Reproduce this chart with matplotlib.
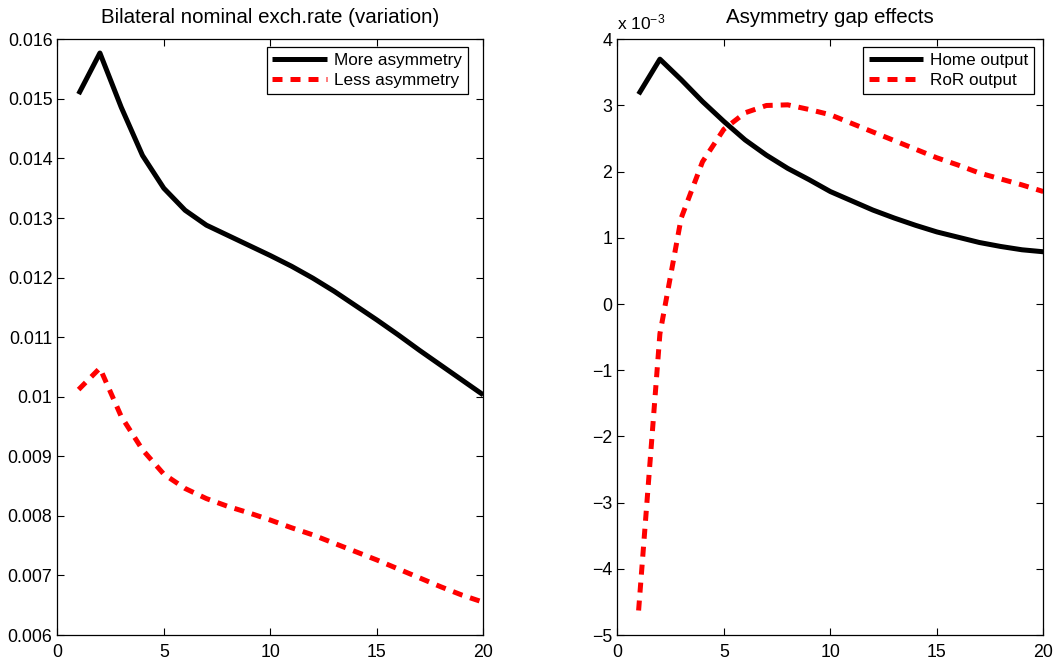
import matplotlib
matplotlib.use("Agg")
import matplotlib.pyplot as plt
from matplotlib.ticker import FuncFormatter, MultipleLocator

plt.rcParams['font.family'] = ['Liberation Sans', 'DejaVu Sans']
plt.rcParams['mathtext.default'] = 'regular'

# ---- data ----
periods = list(range(1, 21))

more_asym = [0.01508, 0.01577, 0.01486, 0.01405, 0.01350, 0.01313, 0.01288, 0.01271,
             0.01254, 0.01237, 0.01219, 0.01199, 0.01177, 0.01153, 0.01129, 0.01104,
             0.01078, 0.01053, 0.01028, 0.01003]
less_asym = [0.01012, 0.01048, 0.00967, 0.00911, 0.00870, 0.00846, 0.00829, 0.00816,
             0.00805, 0.00793, 0.00780, 0.00768, 0.00754, 0.00740, 0.00726, 0.00711,
             0.00696, 0.00681, 0.00667, 0.00655]

home_output = [3.17e-3, 3.70e-3, 3.39e-3, 3.06e-3, 2.76e-3, 2.48e-3, 2.25e-3, 2.05e-3,
               1.88e-3, 1.70e-3, 1.56e-3, 1.42e-3, 1.30e-3, 1.19e-3, 1.09e-3, 1.01e-3,
               0.93e-3, 0.87e-3, 0.82e-3, 0.79e-3]
ror_output = [-4.63e-3, -0.45e-3, 1.30e-3, 2.15e-3, 2.64e-3, 2.89e-3, 3.00e-3, 3.01e-3,
              2.94e-3, 2.86e-3, 2.73e-3, 2.60e-3, 2.47e-3, 2.34e-3, 2.21e-3, 2.10e-3,
              1.98e-3, 1.89e-3, 1.80e-3, 1.70e-3]

titles = ["Bilateral nominal exch.rate (variation)", "Asymmetry gap effects"]
left_labels = ["More asymmetry", "Less asymmetry"]
right_labels = ["Home output", "RoR output"]
x_ticks = [0, 5, 10, 15, 20]

TICK_FS = 12.8
LEG_FS = 12.3
TITLE_FS = 14.8
LW = 3.6
DASH = (2.0, 1.6)

fig = plt.figure(figsize=(10.57, 6.61), dpi=100)
ax1 = fig.add_axes([57.3/1057, 26/661, 426/1057, 595.7/661])
ax2 = fig.add_axes([617.3/1057, 26/661, 426/1057, 595.7/661])


def style(ax):
    ax.set_xlim(0, 20)
    ax.set_xticks(x_ticks)
    ax.tick_params(direction='in', top=True, right=True, length=5, width=0.8,
                   labelsize=TICK_FS, colors='black')
    ax.tick_params(axis='x', pad=6.5)
    ax.tick_params(axis='y', pad=3.5)
    for s in ax.spines.values():
        s.set_linewidth(0.9)
        s.set_color('black')


# left panel
ax1.plot(periods, more_asym, color='black', lw=LW, label=left_labels[0], solid_capstyle='butt')
ax1.plot(periods, less_asym, color='#ff0000', lw=LW, ls=(0, DASH), label=left_labels[1])
style(ax1)
ax1.set_ylim(0.006, 0.016)
ax1.yaxis.set_major_locator(MultipleLocator(0.001))
ax1.yaxis.set_major_formatter(FuncFormatter(lambda v, p: ('%g' % round(v, 6))))
ax1.set_title(titles[0], fontsize=TITLE_FS, pad=11.5)

# right panel
ax2.plot(periods, home_output, color='black', lw=LW, label=right_labels[0], solid_capstyle='butt')
ax2.plot(periods, ror_output, color='#ff0000', lw=LW, ls=(0, DASH), label=right_labels[1])
style(ax2)
ax2.set_ylim(-5e-3, 4e-3)
ax2.yaxis.set_major_locator(MultipleLocator(1e-3))
ax2.yaxis.set_major_formatter(FuncFormatter(lambda v, p: ('%g' % round(v * 1e3, 6)).replace('-', '\u2212')))
ax2.set_title(titles[1], fontsize=TITLE_FS, pad=11.5)
ax2.text(0.0, 1.016, 'x 10$^{\u22123}$', transform=ax2.transAxes, fontsize=12.5,
         ha='left', va='baseline')

for ax, anchor in [(ax1, (0.964, 0.987)), (ax2, (0.979, 0.987))]:
    leg = ax.legend(loc='upper right', bbox_to_anchor=anchor, borderaxespad=0,
                    fontsize=LEG_FS, frameon=True, fancybox=False, handlelength=3.2,
                    handletextpad=0.4, labelspacing=0.3, borderpad=0.35)
    leg.get_frame().set_edgecolor('black')
    leg.get_frame().set_linewidth(0.9)
    leg.get_frame().set_alpha(1)

fig.savefig('out.png', dpi=100)
